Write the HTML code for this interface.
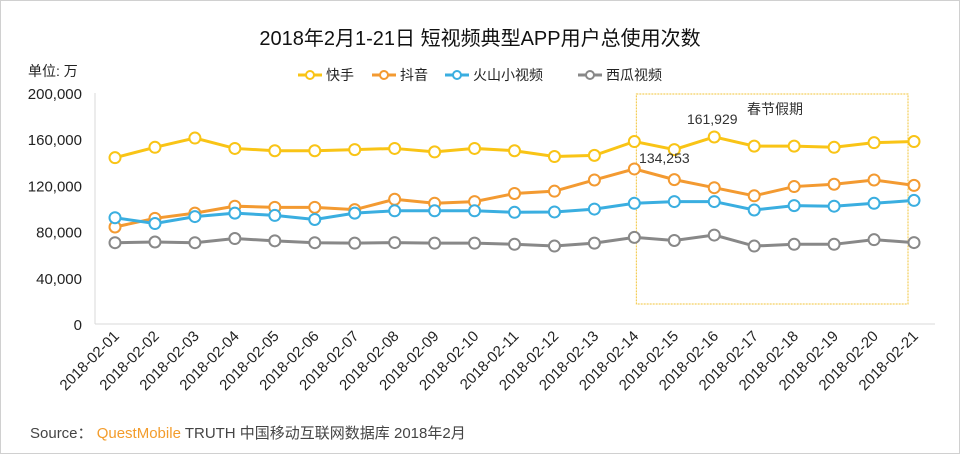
<!DOCTYPE html>
<html><head><meta charset="utf-8"><style>
body{margin:0;background:#fff}
svg{display:block;font-family:"Liberation Sans","Noto Sans CJK SC",sans-serif}
</style></head><body>
<svg id="c" width="960" height="454" viewBox="0 0 960 454">
<rect x="0.5" y="0.5" width="959" height="453" fill="#fff" stroke="#d0d0d0"/>
<text x="480" y="45" text-anchor="middle" font-size="20" fill="#111">2018年2月1-21日 短视频典型APP用户总使用次数</text>
<text x="28" y="76" font-size="14" fill="#222">单位: 万</text>
<text x="30" y="438" font-size="15" fill="#444">Source： <tspan fill="#f39c2b">QuestMobile</tspan> TRUTH 中国移动互联网数据库 2018年2月</text>
<g id="g"></g>
</svg>
<script>
const categories=["2018-02-01","2018-02-02","2018-02-03","2018-02-04","2018-02-05","2018-02-06","2018-02-07","2018-02-08","2018-02-09","2018-02-10","2018-02-11","2018-02-12","2018-02-13","2018-02-14","2018-02-15","2018-02-16","2018-02-17","2018-02-18","2018-02-19","2018-02-20","2018-02-21"];
const kuaishou=[144000,153000,161000,152000,150000,150000,151000,152000,149000,152000,150000,145000,146000,158000,151000,161929,154000,154000,153000,157000,158000];
const douyin=[84000,91500,96000,102000,101000,101000,99000,108000,104500,106000,113000,115000,124700,134253,125000,118000,111000,119000,121000,124700,120000];
const huoshan=[92000,87000,93000,96000,94000,90500,96000,98000,98000,98000,96700,97000,99500,104500,106000,106000,98700,102500,102000,104500,107000];
const xigua=[70400,71000,70400,74000,72000,70400,70000,70500,70000,70000,69000,67500,70000,75000,72300,77000,67500,69000,69000,73000,70500];
const yTicks=[0,40000,80000,120000,160000,200000];
const yTickLabels=["0","40,000","80,000","120,000","160,000","200,000"];
const seriesNames=["快手","抖音","火山小视频","西瓜视频"];
const seriesColors=["#f9c416","#f39a31","#3aaee0","#888888"];
const holidayRange=[13.05,19.85];
const holidayLabel="春节假期";
const annotations=[[15,161929,"161,929"],[13,134253,"134,253"]];

const NS="http://www.w3.org/2000/svg";
const g=document.getElementById('g');
function mk(t,a){const e=document.createElementNS(NS,t);for(const k in a)e.setAttribute(k,a[k]);g.appendChild(e);return e;}
const x=i=>115+i*(799/20);
const y=v=>324-v*(231/200000);
let e=mk('line',{x1:95,y1:324,x2:935,y2:324,stroke:'#d9d9d9'});


e=mk('line',{x1:95,y1:93,x2:95,y2:324,stroke:'#d9d9d9'});


yTicks.forEach((t,i)=>{const el=mk('text',{x:82,y:y(t)+6,'text-anchor':'end','font-size':15,fill:'#222'});el.textContent=yTickLabels[i];

});
categories.forEach((c,i)=>{const px=x(i)+5,py=337;const el=mk('text',{x:px,y:py,'text-anchor':'end','font-size':15,fill:'#222',transform:`rotate(-45 ${px} ${py})`});el.textContent=c;

});
e=mk('rect',{x:x(holidayRange[0]),y:94,width:x(holidayRange[1])-x(holidayRange[0]),height:210,fill:'none',stroke:'#f2c43a','stroke-dasharray':'2,1'});


e=mk('text',{x:775,y:114,'text-anchor':'middle','font-size':14,fill:'#333'});e.textContent=holidayLabel;


const lx=[298,372,445,578];
seriesNames.forEach((n,i)=>{
 const l=mk('line',{x1:lx[i],y1:75,x2:lx[i]+24,y2:75,stroke:seriesColors[i],'stroke-width':3});
 
 
 const c=mk('circle',{cx:lx[i]+12,cy:75,r:4,fill:'#fff',stroke:seriesColors[i],'stroke-width':2});
 
 
 const t=mk('text',{x:lx[i]+28,y:80,'font-size':14,fill:'#222'});t.textContent=n;
 
 
});
[kuaishou,douyin,huoshan,xigua].forEach((s,k)=>{
 const p=mk('polyline',{points:s.map((v,i)=>x(i)+','+y(v)).join(' '),fill:'none',stroke:seriesColors[k],'stroke-width':3});
 
 
 s.forEach((v,i)=>{const c=mk('circle',{cx:x(i),cy:y(v),r:5.5,fill:'#fff',stroke:seriesColors[k],'stroke-width':2});
 
 });
});
annotations.forEach(a=>{const t=mk('text',{x:x(a[0])-(a[0]===15?2:-30),y:y(a[1])-(a[0]===15?13:6),'text-anchor':'middle','font-size':14,fill:'#333'});t.textContent=a[2];

});
</script>
</body></html>
